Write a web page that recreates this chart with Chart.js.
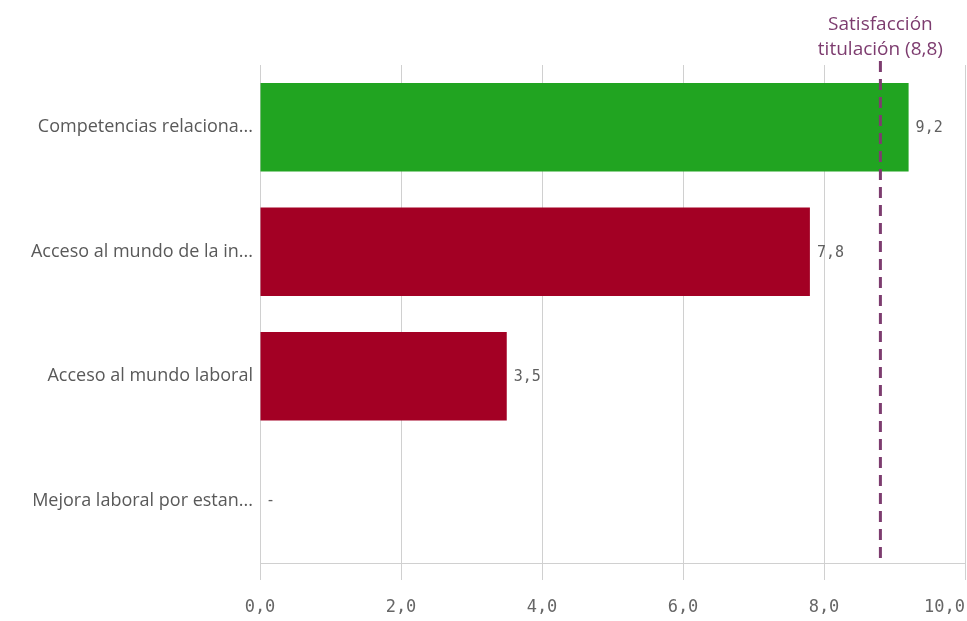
<!DOCTYPE html>
<html>
<head>
<meta charset="utf-8">
<script src="https://cdn.jsdelivr.net/npm/chart.js@4"></script>
<style>
  html, body { margin: 0; padding: 0; background: #fff; }
  #wrap { width: 967px; height: 621px; position: relative; }
</style>
</head>
<body>
<div id="wrap"><canvas id="chart"></canvas></div>
<script>
// data
const categories = [
    "Competencias relaciona...",
    "Acceso al mundo de la in...",
    "Acceso al mundo laboral",
    "Mejora laboral por estan..."
];
const values = [9.2, 7.8, 3.5, null];
const barColors = ["#21a421", "#a30024", "#a30024", "#a30024"];
const xTicks = [0, 2, 4, 6, 8, 10];
const refValue = 8.8;
const refLabel = ["Satisfacción", "titulación (8,8)"];

const fmt = v => v.toFixed(1).replace(".", ",");

// labels next to bars + reference line
const extras = {
    id: "extras",
    afterDatasetsDraw(chart) {
        const ctx = chart.ctx;
        const xs = chart.scales.x;
        const area = chart.chartArea;
        const meta = chart.getDatasetMeta(0);

        ctx.save();
        ctx.font = "15px 'DejaVu Sans Mono'";
        ctx.fillStyle = "#606060";
        ctx.textAlign = "left";
        ctx.textBaseline = "middle";
        meta.data.forEach((bar, i) => {
            const v = values[i];
            if (v === null) {
                ctx.fillText("-", xs.getPixelForValue(0) + 6, bar.y);
            } else {
                ctx.fillText(fmt(v), bar.x + 7, bar.y + 1);
            }
        });

        // reference line
        const rx = xs.getPixelForValue(refValue);
        ctx.strokeStyle = "#7d3c6f";
        ctx.lineWidth = 3;
        ctx.setLineDash([11, 7]);
        ctx.beginPath();
        ctx.moveTo(rx, area.top - 4);
        ctx.lineTo(rx, area.bottom - 2);
        ctx.stroke();
        ctx.setLineDash([]);

        ctx.fillStyle = "#7d3c6f";
        ctx.font = "19px 'Open Sans'";
        ctx.textAlign = "center";
        ctx.fillText(refLabel[0], rx, area.top - 40);
        ctx.fillText(refLabel[1], rx, area.top - 15);
        ctx.restore();
    }
};

new Chart(document.getElementById("chart"), {
    type: "bar",
    data: {
        labels: categories,
        datasets: [{
            data: values,
            backgroundColor: barColors,
            categoryPercentage: 1,
            barPercentage: 0.71
        }]
    },
    options: {
        indexAxis: "y",
        responsive: true,
        maintainAspectRatio: false,
        animation: false,
        layout: { padding: { top: 65, right: 2, left: 0, bottom: 0 } },
        plugins: {
            legend: { display: false },
            tooltip: { enabled: false }
        },
        scales: {
            x: {
                min: 0,
                max: 10,
                afterBuildTicks: s => { s.ticks = xTicks.map(v => ({ value: v })); },
                afterFit: s => { s.height = 58; s.paddingLeft = 0; s.paddingRight = 0; },
                ticks: {
                    // last label is pushed left so it stays inside the canvas
                    callback: v => v === 10 ? fmt(v) + "    " : fmt(v),
                    font: { family: "DejaVu Sans Mono", size: 17 },
                    color: "#666",
                    padding: 17,
                    maxRotation: 0,
                    autoSkip: false
                },
                grid: { color: "#d0d0d0", lineWidth: 1, tickLength: 17 },
                border: { color: "#d0d0d0" }
            },
            y: {
                afterFit: s => { s.width = 260; },
                ticks: {
                    font: { family: "Open Sans", size: 18 },
                    color: "#595959",
                    padding: 7
                },
                grid: { display: false, drawTicks: false },
                border: { color: "#d0d0d0" }
            }
        }
    },
    plugins: [extras]
});
</script>
</body>
</html>
